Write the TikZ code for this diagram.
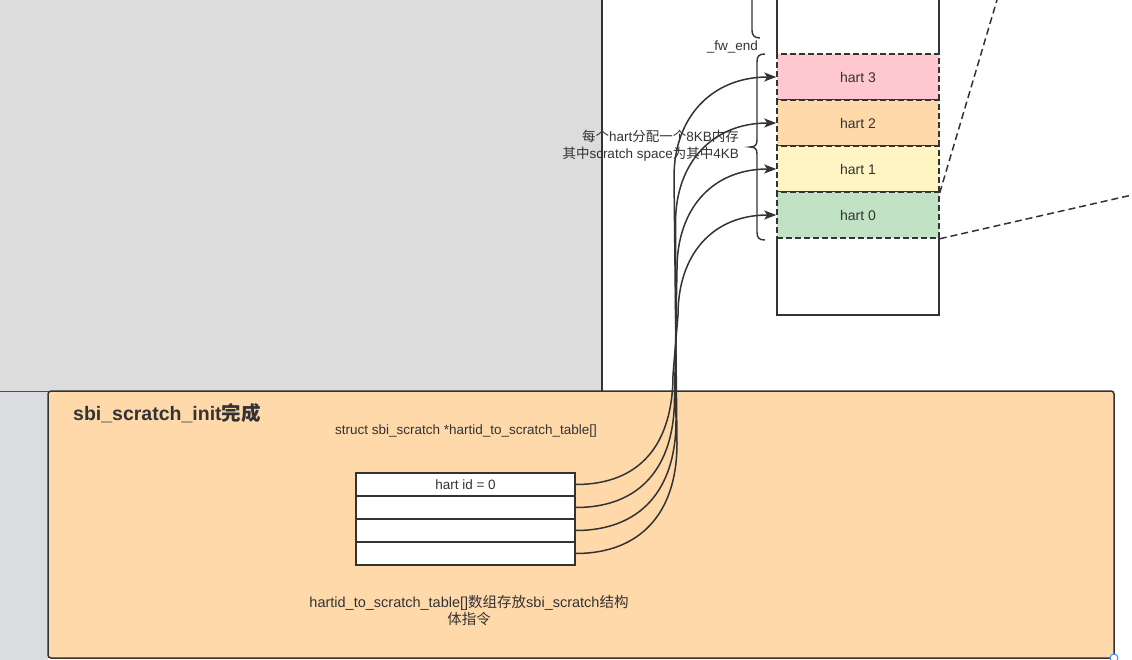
\documentclass[tikz,border=0pt]{standalone}
\usepackage{fontspec}
\setmainfont{Liberation Sans}
\newfontfamily\cjk{Noto Sans CJK SC}
\usetikzlibrary{arrows.meta}
\definecolor{linec}{HTML}{333333}
\definecolor{txtc}{HTML}{333333}
\definecolor{grayc}{HTML}{DCDCDC}
\definecolor{bluegrayc}{HTML}{DADCE0}
\definecolor{orangec}{HTML}{FFD9AA}
\definecolor{pinkc}{HTML}{FFC7CE}
\definecolor{yellowc}{HTML}{FFF5C3}
\definecolor{greenc}{HTML}{C1E2C5}
\definecolor{handlec}{HTML}{3D8BF8}
\begin{document}
\begin{tikzpicture}[x=1pt,y=-1pt,
  txt/.style={text=txtc, font=\fontsize{13.5}{17}\selectfont, inner sep=0pt},
  cell/.style={draw=linec, line width=1.5pt, dash pattern=on 6pt off 3pt,
     minimum width=162pt, minimum height=46pt, inner sep=0pt, text=txtc,
     font=\fontsize{14}{17}\selectfont},
  rowbox/.style={draw=linec, line width=1.5pt, fill=white, minimum width=219pt,
     minimum height=23pt, inner sep=0pt, text=txtc, font=\fontsize{13.5}{17}\selectfont},
  arr/.style={draw=linec, line width=1.5pt, -{Stealth[length=12pt,width=9pt,inset=3pt]}},
  brace/.style={draw=linec, line width=1.4pt},
  dline/.style={draw=linec, line width=1.5pt, dash pattern=on 7pt off 4pt}]
\useasboundingbox (0,0) rectangle (1132,660);
% background regions
\fill[grayc] (0,0) rectangle (602,391);
\draw[linec, line width=2pt] (602,0) -- (602,391);
\fill[bluegrayc] (0,391) rectangle (48,660);
\draw[gray!60!black, line width=1pt] (0,391) -- (48,391);
% panel
\node[draw=linec, line width=1.5pt, fill=orangec, rounded corners=3pt,
  minimum width=1066pt, minimum height=267pt, inner sep=0pt] (panel) at (581,524.5) {};
\node[text=txtc, font=\fontsize{19.5}{22}\selectfont\bfseries, anchor=west, inner sep=0pt]
  (title) at (73,413) {sbi\_scratch\_init{\cjk\bfseries 完成}};
\node[txt] (decl) at (466,431) {struct sbi\_scratch *hartid\_to\_scratch\_table[]};
\node[txt, align=center, font=\fontsize{14.5}{17}\selectfont] (note) at (469,611)
  {hartid\_to\_scratch\_table[]{\cjk 数组存放}sbi\_scratch{\cjk 结构}\\{\cjk 体指令}};
% table rows
\node[rowbox] (r0) at (465.5,484.5) {hart id = 0};
\node[rowbox] (r1) at (465.5,507.5) {};
\node[rowbox] (r2) at (465.5,530.5) {};
\node[rowbox] (r3) at (465.5,553.5) {};
% memory column
\draw[linec, line width=1.5pt] (777,0) -- (777,54);
\draw[linec, line width=1.5pt] (939,0) -- (939,54);
\draw[linec, line width=1.5pt] (777,238) -- (777,315) -- (939,315) -- (939,238);
\node[cell, fill=pinkc] (h3) at (858,77) {hart 3};
\node[cell, fill=orangec] (h2) at (858,123) {hart 2};
\node[cell, fill=yellowc] (h1) at (858,169) {hart 1};
\node[cell, fill=greenc] (h0) at (858,215) {hart 0};
% dashed zoom lines
\coordinate (zt) at (997,0);
\coordinate (zb) at (1132,195);
\draw[dline] (h1.south east) -- (zt);
\draw[dline] (h0.south east) -- (zb);
% labels
\node[txt, anchor=east, font=\fontsize{13.5}{16}\selectfont] (fw) at (758,47) {\_fw\_end};
\node[txt, anchor=east, align=right] (alloc) at (739,146)
  {{\cjk 每个}hart{\cjk 分配一个}8KB{\cjk 内存}\\{\cjk 其中}scratch space{\cjk 为其中}4KB};
% braces
\draw[brace] (752,0) -- (752,30) .. controls (752,35) and (754,38) .. (760,38);
\draw[brace] (765,54) .. controls (759,54) and (757,56) .. (757,62) -- (757,140)
  .. controls (757,145) and (755,147) .. (750,147)
  .. controls (755,147) and (757,149) .. (757,154) -- (757,232)
  .. controls (757,238) and (759,240) .. (765,240);
% arrows
\draw[arr] (r0.east) .. controls (640,484.5) and (673,444.5) .. (673,374.5)
  -- (678,315) .. controls (678,255) and (712,215) .. (h0.west);
\draw[arr] (r1.east) .. controls (640,507.5) and (674.5,467.5) .. (674.5,397.5)
  -- (677,269) .. controls (677,209) and (712,169) .. (h1.west);
\draw[arr] (r2.east) .. controls (640,530.5) and (676,490.5) .. (676,420.5)
  -- (675.5,223) .. controls (675.5,163) and (712,123) .. (h2.west);
\draw[arr] (r3.east) .. controls (640,553.5) and (677,513.5) .. (677,443.5)
  -- (674,177) .. controls (674,117) and (712,77) .. (h3.west);
% selection handle
\draw[handlec, fill=white, line width=1pt] (1114,658) circle (4pt);
\end{tikzpicture}
\end{document}
